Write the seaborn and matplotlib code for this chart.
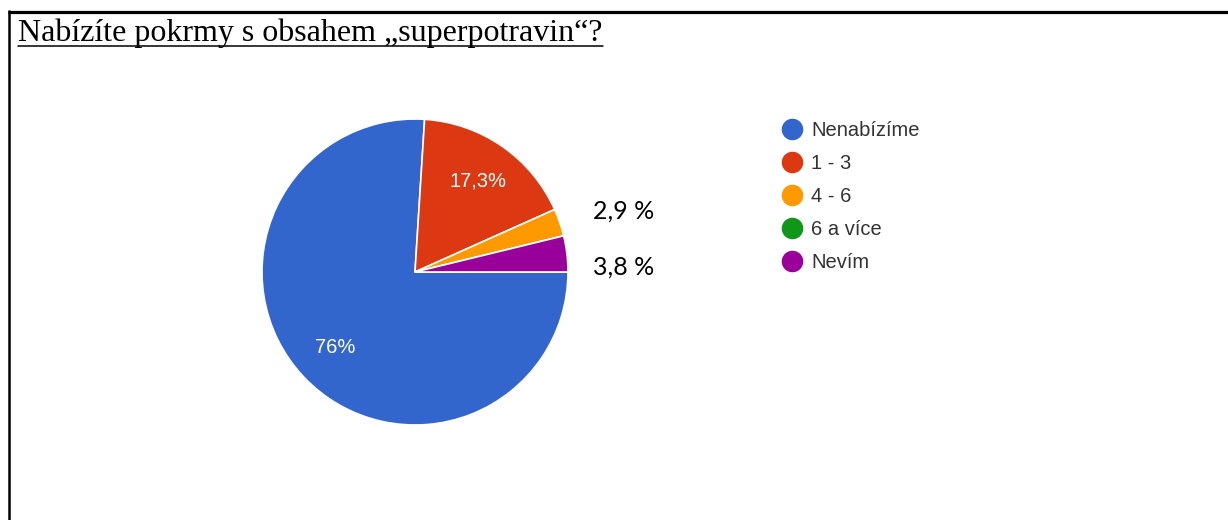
import matplotlib
matplotlib.use("Agg")
import matplotlib.pyplot as plt
from matplotlib.lines import Line2D
import seaborn as sns

# Survey answers and their shares (percent)
categories = ["Nenabízíme", "1 - 3", "4 - 6", "6 a více", "Nevím"]
shares = [76.0, 17.3, 2.9, 0.0, 3.8]
slice_colors = ["#3366CC", "#DC3912", "#FF9900", "#109618", "#990099"]
title_text = "Nabízíte pokrmy s obsahem „superpotravin“?"

sns.set_theme(style="white")
plt.rcParams["font.family"] = ["Liberation Sans", "DejaVu Sans"]

W, H, DPI = 1228, 520, 100
fig = plt.figure(figsize=(W / DPI, H / DPI), dpi=DPI, facecolor="white")

# Pie axes: centre (415, 272) px, radius 153 px
cx, cy, r = 415, 272, 153
ax = fig.add_axes([(cx - r) / W, (H - cy - r) / H, 2 * r / W, 2 * r / H])
palette = sns.color_palette(slice_colors)


def fmt_pct(p):
    if p < 5:
        return ""
    s = f"{p:.1f}".rstrip("0").rstrip(".")
    return s.replace(".", ",") + "%"


wedges, _, autotexts = ax.pie(
    shares,
    colors=palette,
    startangle=0,
    counterclock=False,
    autopct=fmt_pct,
    pctdistance=0.72,
    radius=1.0,
    wedgeprops=dict(edgecolor="white", linewidth=1.2),
    textprops=dict(color="white", fontsize=14.5,
                   family=["Liberation Sans", "DejaVu Sans"]),
)
ax.set_xlim(-1, 1)
ax.set_ylim(-1, 1)
ax.set_aspect("equal")
ax.axis("off")

# Outside labels for the thin slices
outside = [(2, 0.40), (4, 0.033)]
for idx, ypos in outside:
    lab = f"{shares[idx]:.1f}".replace(".", ",") + " %"
    ax.text(1.163, ypos, lab, ha="left", va="center", fontsize=18,
            color="black", family=["Lato", "DejaVu Sans"])

# Legend with circular markers
handles = [
    Line2D([0], [0], marker="o", linestyle="none", markersize=14.5,
           markerfacecolor=c, markeredgecolor=c)
    for c in palette
]
leg = fig.legend(
    handles, categories,
    loc="upper left",
    bbox_to_anchor=(772 / W, 1 - 111 / H),
    frameon=False,
    fontsize=14.5,
    handlelength=1.0,
    handletextpad=0.45,
    labelspacing=0.69,
    borderpad=0.0,
)
for t in leg.get_texts():
    t.set_color("#333333")

# Title, underlined
title = fig.text(18 / W, 1 - 41 / H, title_text, ha="left", va="baseline",
                 fontsize=23, color="black",
                 family=["Liberation Serif", "DejaVu Serif"])
fig.canvas.draw()
bb = title.get_window_extent(fig.canvas.get_renderer())
uy = 1 - 46 / H
fig.add_artist(Line2D([bb.x0 / W, bb.x1 / W], [uy, uy], color="black",
                      linewidth=1.1, transform=fig.transFigure))

# Frame lines: top and left
fig.add_artist(Line2D([7.5 / W, 1.0], [1 - 11.5 / H, 1 - 11.5 / H],
                      color="black", linewidth=2.3, transform=fig.transFigure,
                      solid_capstyle="butt"))
fig.add_artist(Line2D([8.5 / W, 8.5 / W], [0, 1 - 10 / H],
                      color="black", linewidth=1.8, transform=fig.transFigure,
                      solid_capstyle="butt"))

fig.savefig("out.png", dpi=DPI, facecolor="white")
